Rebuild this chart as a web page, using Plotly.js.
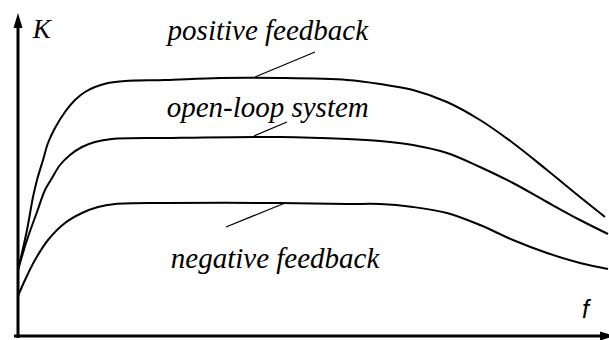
<!DOCTYPE html>
<html>
<head>
<meta charset="utf-8">
<script src="https://cdn.plot.ly/plotly-3.0.1.min.js"></script>
</head>
<body style="margin:0">
<div id="plot"></div>
<script>
// frequency response sketch, arbitrary units (f across, K up)
let posF = [0, 9, 15, 19, 25, 30, 37, 47, 57, 67, 77, 90, 107, 147, 202, 262, 329, 362, 395, 429, 462, 495, 529, 562, 587];
let posK = [66, 106, 139, 156, 176, 193, 208, 224, 236, 244, 249, 253, 255, 256, 258, 258, 256, 252, 246, 234, 216, 193, 166, 139, 119];

let openF = [0, 9, 19, 27, 34, 42, 52, 64, 77, 94, 147, 262, 329, 362, 395, 429, 462, 495, 529, 562, 590];
let openK = [66, 96, 124, 146, 158, 171, 181, 189, 194, 197, 198, 199, 197, 195, 191, 183, 169, 153, 134, 116, 102];

let negF = [0, 7, 17, 30, 47, 64, 80, 97, 147, 262, 329, 362, 395, 429, 462, 495, 529, 562, 590];
let negK = [40, 56, 76, 96, 113, 123, 129, 132, 133, 133, 132, 132, 129, 123, 111, 96, 83, 73, 67];

// curve labels and their pointer lines
let labels = ["positive feedback", "open-loop system", "negative feedback"];
let labelF = [250, 250, 257];
let labelK = [306, 229, 78];
let leaderF = [[297, 237], [269, 236], [267, 208]];
let leaderK = [[284, 259], [214, 200], [133, 109]];

function curve(x, y) {
  return {
    x: x, y: y, type: 'scatter', mode: 'lines',
    line: { color: 'black', width: 2, shape: 'spline', smoothing: 1 },
    hoverinfo: 'skip'
  };
}

let traces = [curve(posF, posK), curve(openF, openK), curve(negF, negK)];
for (let i = 0; i < leaderF.length; i++) {
  traces.push({
    x: leaderF[i], y: leaderK[i], type: 'scatter', mode: 'lines',
    line: { color: 'black', width: 1.3 }, hoverinfo: 'skip'
  });
}

let serif = 'Liberation Serif';
let annots = labels.map((t, i) => ({
  x: labelF[i], y: labelK[i], text: t, showarrow: false,
  xanchor: 'center', yanchor: 'middle',
  font: { family: serif, size: 29, color: 'black' }
}));
annots.push({ x: 24, y: 307, text: 'K', showarrow: false,
  font: { family: serif, size: 27, color: 'black' } });
annots.push({ x: 569, y: 27, text: 'f', showarrow: false,
  font: { family: 'Arial', style: 'italic', size: 25, color: 'black' } });

let shapes = [
  // axes
  { type: 'line', x0: 0, y0: -2, x1: 0, y1: 312, line: { color: 'black', width: 3 } },
  { type: 'line', x0: -4, y0: 0, x1: 585, y1: 0, line: { color: 'black', width: 3 } },
  // arrowheads
  { type: 'path', path: 'M 0 323 L -4.5 308 L 4.5 308 Z', fillcolor: 'black', line: { width: 0 } },
  { type: 'path', path: 'M 597 0 L 582 4.5 L 582 -4.5 Z', fillcolor: 'black', line: { width: 0 } }
];

let layout = {
  width: 609, height: 340,
  margin: { l: 0, r: 0, t: 0, b: 0 },
  paper_bgcolor: 'white', plot_bgcolor: 'white',
  showlegend: false,
  xaxis: { range: [-18, 591], visible: false, fixedrange: true },
  yaxis: { range: [-4, 336], visible: false, fixedrange: true },
  annotations: annots,
  shapes: shapes
};

Plotly.newPlot('plot', traces, layout, { displayModeBar: false }).then(gd => {
  // set the serif italic straight on the svg text, quoted family
  gd.querySelectorAll('.annotation-text').forEach(el => {
    if (el.textContent === 'f') return;
    el.style.fontFamily = "'Liberation Serif', 'Times New Roman', serif";
    el.style.fontStyle = 'italic';
  });
});
</script>
</body>
</html>
